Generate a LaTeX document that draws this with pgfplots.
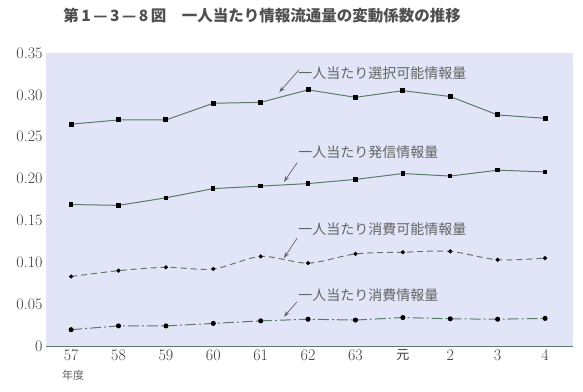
\documentclass[border=0pt]{standalone}
\usepackage{pgfplots}
\pgfplotsset{compat=1.18}
\usepackage{fontspec}
\newfontfamily\cjk{Noto Sans CJK JP}
\usetikzlibrary{arrows.meta}
\definecolor{bgc}{RGB}{226,229,247}
\definecolor{lnc}{RGB}{92,122,106}
\definecolor{txt}{RGB}{100,100,100}
\definecolor{tck}{RGB}{60,60,60}
\begin{document}
\begin{tikzpicture}
\begin{axis}[
  scale only axis, width=527pt, height=293pt,
  xmin=-0.53, xmax=10.59, ymin=0, ymax=0.35,
  axis x line*=bottom, axis y line*=left,
  axis line style={draw=lnc, line width=0.8pt},
  clip=false,
  xtick={0,...,10},
  xticklabels={57,58,59,60,61,62,63,{\cjk\fontsize{13}{13}\selectfont 元},2,3,4},
  xtick align=inside, major tick length=6pt,
  xtick style={draw=lnc, line width=0.6pt},
  ytick={0,0.05,0.10,0.15,0.20,0.25,0.30,0.35},
  yticklabels={0,0.05,0.10,0.15,0.20,0.25,0.30,0.35},
  ytick style={draw=none},
  ticklabel style={font=\fontsize{16}{16}\selectfont, text=tck},
]
\fill[bgc] (rel axis cs:0,0) rectangle (rel axis cs:1,1);
\coordinate (O) at (rel axis cs:0,0);
% 選択可能
\addplot[lnc, line width=1pt, mark=square*, mark size=2pt, mark options={fill=black,draw=black}] coordinates {
(0,0.265) (1,0.270) (2,0.270) (3,0.290) (4,0.291) (5,0.306) (6,0.297) (7,0.305) (8,0.298) (9,0.276) (10,0.272)};
% 発信
\addplot[lnc, line width=1pt, mark=square*, mark size=1.7pt, mark options={fill=black,draw=black}] coordinates {
(0,0.169) (1,0.168) (2,0.177) (3,0.188) (4,0.191) (5,0.194) (6,0.199) (7,0.206) (8,0.203) (9,0.210) (10,0.208)};
% 消費可能
\addplot[lnc, line width=1pt, smooth, dash pattern=on 6pt off 4pt, mark=*, mark size=1.5pt, mark options={fill=black,draw=black,solid}] coordinates {
(0,0.083) (1,0.090) (2,0.094) (3,0.092) (4,0.107) (5,0.099) (6,0.110) (7,0.112) (8,0.113) (9,0.103) (10,0.105)};
% 消費
\addplot[lnc, line width=1pt, dash pattern=on 11pt off 3pt on 2pt off 3pt, mark=*, mark size=2pt, mark options={fill=black,draw=black,solid}] coordinates {
(0,0.0195) (1,0.024) (2,0.024) (3,0.027) (4,0.030) (5,0.032) (6,0.031) (7,0.034) (8,0.0325) (9,0.032) (10,0.033)};
% labels
\tikzset{lab/.style={anchor=west, text=txt, inner sep=0pt, font=\cjk\fontsize{14}{14}\selectfont},
         arr/.style={draw=txt, line width=0.7pt, -{Stealth[length=6pt,width=4pt]}}}
\node[lab] at (axis cs:4.79,0.326) {一人当たり選択可能情報量};
\draw[arr] (axis cs:4.81,0.330) -- (axis cs:4.39,0.303);
\node[lab] at (axis cs:4.79,0.231) {一人当たり発信情報量};
\draw[arr] (axis cs:4.77,0.219) -- (axis cs:4.49,0.196);
\node[lab] at (axis cs:4.79,0.139) {一人当たり消費可能情報量};
\draw[arr] (axis cs:4.77,0.129) -- (axis cs:4.49,0.105);
\node[lab] at (axis cs:4.79,0.061) {一人当たり消費情報量};
\draw[arr] (axis cs:4.77,0.053) -- (axis cs:4.49,0.035);
\node[text=txt, inner sep=0pt, font=\cjk\fontsize{11}{11}\selectfont] at (axis cs:0.04,-0.0346) {年度};
\node[anchor=west, inner sep=0pt, text={rgb,255:red,80;green,80;blue,80}, font=\cjk\bfseries\fontsize{15.5}{15.5}\selectfont] at (axis cs:-0.17,0.395) {第\,1\,—\,3\,—\,8\,図　一人当たり情報流通量の変動係数の推移};
\end{axis}
\pgfresetboundingbox
\path (O) ++(-46pt,-45pt) rectangle ++(583pt,391pt);
\end{tikzpicture}
\end{document}
